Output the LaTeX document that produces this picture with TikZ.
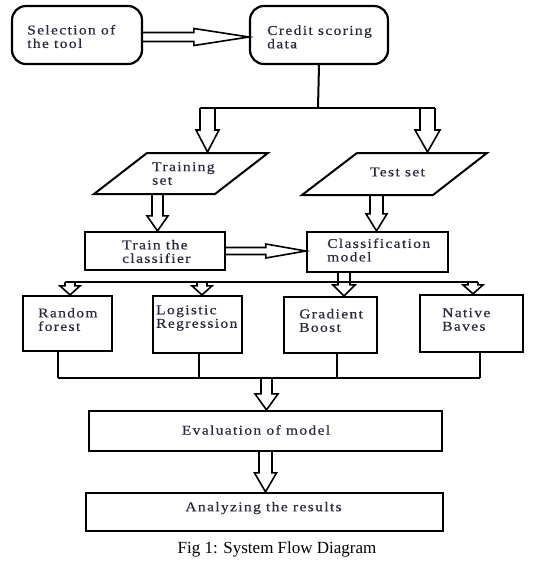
\documentclass[tikz,border=0pt]{standalone}
\usepackage{fontspec}
\setmainfont{Liberation Serif}
\newfontfamily\boxfont[LetterSpace=10,FakeStretch=1.15,FakeBold=0.4]{Liberation Serif}
\usetikzlibrary{calc}
\definecolor{txt}{RGB}{40,40,65}
\tikzset{
  box/.style={draw, line width=2.2pt, inner sep=0pt},
  rbox/.style={box, rounded corners=14pt},
  lbl/.style={font={\boxfont\fontsize{13.5}{13.5}\selectfont}, text=txt, align=left, inner sep=0pt},
  conn/.style={line width=2pt},
  fat/.style={line width=1.6pt, line join=miter},
  para/.style={line width=2pt, line join=miter},
}
% vertical hollow block arrow: #1 start (y only), #2 tip, #3 shaft half, #4 head half, #5 head length
\newcommand\fatv[5]{\draw[fat] let \p1=(#1), \p2=(#2) in
  (\x2-#3pt,\y1) -- (\x2-#3pt,\y2+#5pt) -- (\x2-#4pt,\y2+#5pt) -- (\x2,\y2)
  -- (\x2+#4pt,\y2+#5pt) -- (\x2+#3pt,\y2+#5pt) -- (\x2+#3pt,\y1);}
% horizontal hollow block arrow
\newcommand\fath[5]{\draw[fat] let \p1=(#1), \p2=(#2) in
  (\x1,\y2+#3pt) -- (\x2-#5pt,\y2+#3pt) -- (\x2-#5pt,\y2+#4pt) -- (\x2,\y2)
  -- (\x2-#5pt,\y2-#4pt) -- (\x2-#5pt,\y2-#3pt) -- (\x1,\y2-#3pt);}
\begin{document}
\begin{tikzpicture}[x=1pt,y=-1pt]
\fill[white] (0,0) rectangle (541,562);
\useasboundingbox (0,0) rectangle (541,562);

% top boxes
\node[rbox, minimum width=130pt, minimum height=58pt] (sel) at (77,35) {};
\node[lbl, anchor=west] (selt) at (27,36.5) {Selection of\\the tool};
\node[rbox, minimum width=138pt, minimum height=58pt] (csd) at (319,35) {};
\node[lbl, anchor=west] (csdt) at (267,37) {Credit scoring\\data};
\fath{sel.east}{$(csd.west)+(0,2)$}{4.5}{8.5}{55}

% split
\coordinate (sp) at (318,108);
\coordinate (spL) at (200,108);
\coordinate (spR) at (435,108);
\draw[conn] (csd.south) -- (sp);
\draw[conn] (spL) -- (spR);

% parallelograms
\coordinate (trA) at (147,153); \coordinate (trB) at (268,153);
\coordinate (trC) at (215,194); \coordinate (trD) at (94,194);
\draw[para] (trA) -- (trB) -- (trC) -- (trD) -- cycle;
\node[lbl, anchor=west] (trt) at (152,173.5) {Training\\set};
\coordinate (tsA) at (357,153); \coordinate (tsB) at (487,153);
\coordinate (tsC) at (433,195); \coordinate (tsD) at (302,195);
\draw[para] (tsA) -- (tsB) -- (tsC) -- (tsD) -- cycle;
\node[lbl] (tst) at (397.5,172) {Test set};
\fatv{spL}{207.5,152}{7.5}{11.5}{22}
\fatv{spR}{427.5,152}{7.5}{12.5}{22}

% train / classification
\node[box, minimum width=140pt, minimum height=38pt] (trn) at (155,251) {};
\node[lbl, anchor=west] (trnt) at (122,251.5) {Train the\\classifier};
\node[box, minimum width=141pt, minimum height=40pt] (cls) at (377.5,252) {};
\node[lbl, anchor=west] (clst) at (327,250) {Classification\\model};
\fatv{trC}{$(trn.north)+(2.5,0)$}{5.5}{10.5}{15}
\fatv{tsC}{$(cls.north)+(-1,0)$}{6.5}{10.5}{17}
\fath{trn.east}{$(cls.west)+(0,-1)$}{3.5}{7}{40}

% four models
\node[box, minimum width=89pt, minimum height=55pt] (rf) at (67.5,323.5) {};
\node[lbl, anchor=west] (rft) at (38,319.5) {Random\\forest};
\node[box, minimum width=89pt, minimum height=57pt] (lr) at (197.5,324.5) {};
\begin{scope}
  \clip (lr.north west) rectangle (lr.south east);
  \node[lbl, anchor=west] (lrt) at (156,318) {Logistic\\Regression};
\end{scope}
\node[box, minimum width=93pt, minimum height=56pt] (gb) at (330.5,325) {};
\node[lbl, anchor=west] (gbt) at (299,320.5) {Gradient\\Boost};
\node[box, minimum width=103pt, minimum height=57pt] (nb) at (471.5,323.5) {};
\node[lbl, anchor=west] (nbt) at (442,319.5) {Native\\Baves};

\coordinate (b2L) at (65,282);
\coordinate (b2R) at (478,282);
\draw[conn] (b2L) -- (b2R);
\fatv{b2L}{$(rf.north)+(2.5,0)$}{5}{10}{9}
\fatv{b2L}{$(lr.north)+(4.5,0)$}{5}{10}{9}
\fatv{b2L}{$(nb.north)+(1.5,0)$}{5}{10}{9}
\fatv{cls.south}{$(gb.north)+(13.5,0)$}{6}{11}{11}

% merge
\coordinate (b3L) at (58,378);
\coordinate (b3R) at (480,378);
\draw[conn] (b3L) -- (b3R);
\draw[conn] (rf.south -| b3L) -- (b3L);
\draw[conn] ($(lr.south)+(1.5,0)$) -- ++(0,25);
\draw[conn] ($(gb.south)+(6.5,0)$) -- ++(0,25);
\draw[conn] (nb.south -| b3R) -- (b3R);

% evaluation / analyzing
\node[box, minimum width=353pt, minimum height=40pt] (ev) at (265.5,431) {};
\node[lbl] (evt) at (256,430) {Evaluation of model};
\node[box, minimum width=357pt, minimum height=38pt] (an) at (264.5,512) {};
\node[lbl] (ant) at (263.5,508) {Analyzing the results};
\fatv{b3L}{$(ev.north)+(1,0)$}{5.5}{11.5}{16}
\fatv{ev.south}{$(an.north)+(1,0)$}{6.5}{11}{19}

% caption
\node[font={\fontsize{17}{17}\selectfont}, anchor=base, inner sep=0pt] (cap) at (277,553) {Fig 1: System Flow Diagram};
\end{tikzpicture}
\end{document}
